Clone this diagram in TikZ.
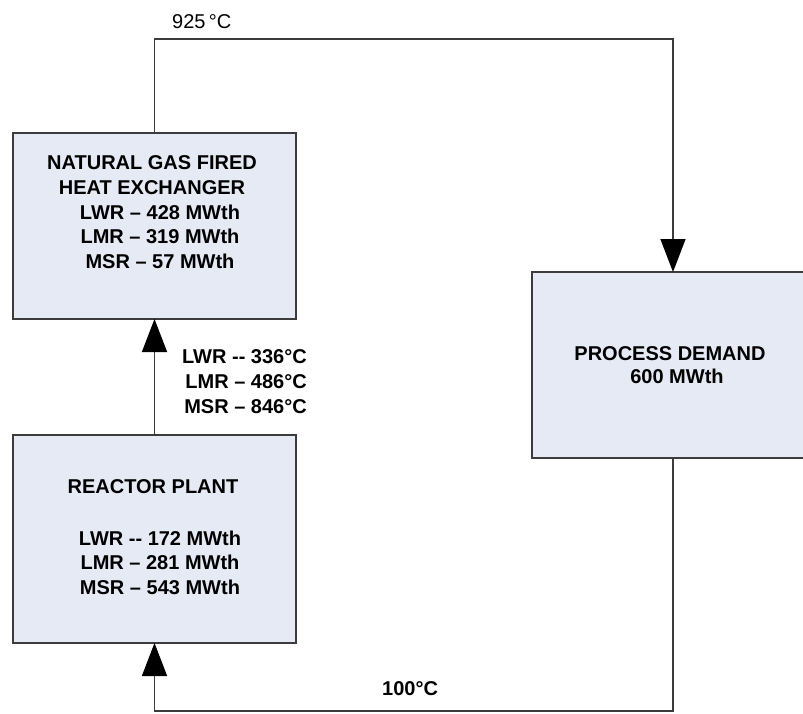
\documentclass[tikz,border=0pt]{standalone}
\usepackage{fontspec}
\setmainfont{Liberation Sans}
\usetikzlibrary{arrows.meta}

\definecolor{boxfill}{HTML}{E6EAF4}
\definecolor{edge}{HTML}{3C3C3C}

\tikzset{
  unit/.style={draw=edge, line width=2pt, fill=boxfill, inner sep=0pt, outer sep=0pt},
  txt/.style={inner sep=0pt, font=\fontsize{20}{24.5}\selectfont\bfseries},
  flow/.style={draw=edge, line width=1.5pt, -{Triangle[width=25pt,length=33pt,color=black]}},
}

\begin{document}
\begin{tikzpicture}[x=1pt, y=-1pt]
    \useasboundingbox (0,0) rectangle (803,713);

    % 方框
    \node[unit, minimum width=283pt, minimum height=186pt] (hx) at (154.5,226) {};
    \node[unit, minimum width=283pt, minimum height=208pt] (rp) at (154.5,539) {};
    \node[unit, minimum width=282pt, minimum height=186pt] (pd) at (673,365) {};

    % 方框文字 (base = 最后一行基线)
    \node[txt, align=center, anchor=base] (hxname) at (152,194) {NATURAL GAS FIRED\\HEAT EXCHANGER};
    \node[txt, align=center, anchor=base] (hxload) at (160,268) {LWR -- 428 MWth\\LMR -- 319 MWth\\MSR -- 57 MWth};
    \node[txt, anchor=base] (rpname) at (153,493) {REACTOR PLANT};
    \node[txt, align=center, anchor=base] (rpload) at (160,594) {LWR -{}- 172 MWth\\LMR -- 281 MWth\\MSR -- 543 MWth};
    \node[txt, anchor=base] (pdname) at (670,360) {PROCESS DEMAND};
    \node[txt, anchor=base] (pdload) at (677,383) {600 MWth};

    % 管线
    \coordinate (hot) at (400,39);
    \coordinate (cold) at (400,711);
    \draw[flow] (rp.north) -- (hx.south);
    \draw[flow] (hx.north) |- (hot) -| (pd.north);
    \draw[flow] (pd.south) |- (cold) -| (rp.south);

    % 温度
    \node[inner sep=0pt, anchor=base west, font=\fontsize{20}{24}\selectfont] (hotlbl) at (172,28) {925\,°C};
    \node[txt, anchor=base west] (coldlbl) at (382,695) {100°C};
    \node[txt, align=right, anchor=base east, font=\fontsize{20}{25}\selectfont\bfseries] (midlbl) at (307,413)
        {LWR -{}- 336°C\\LMR -- 486°C\\MSR -- 846°C};
\end{tikzpicture}
\end{document}
